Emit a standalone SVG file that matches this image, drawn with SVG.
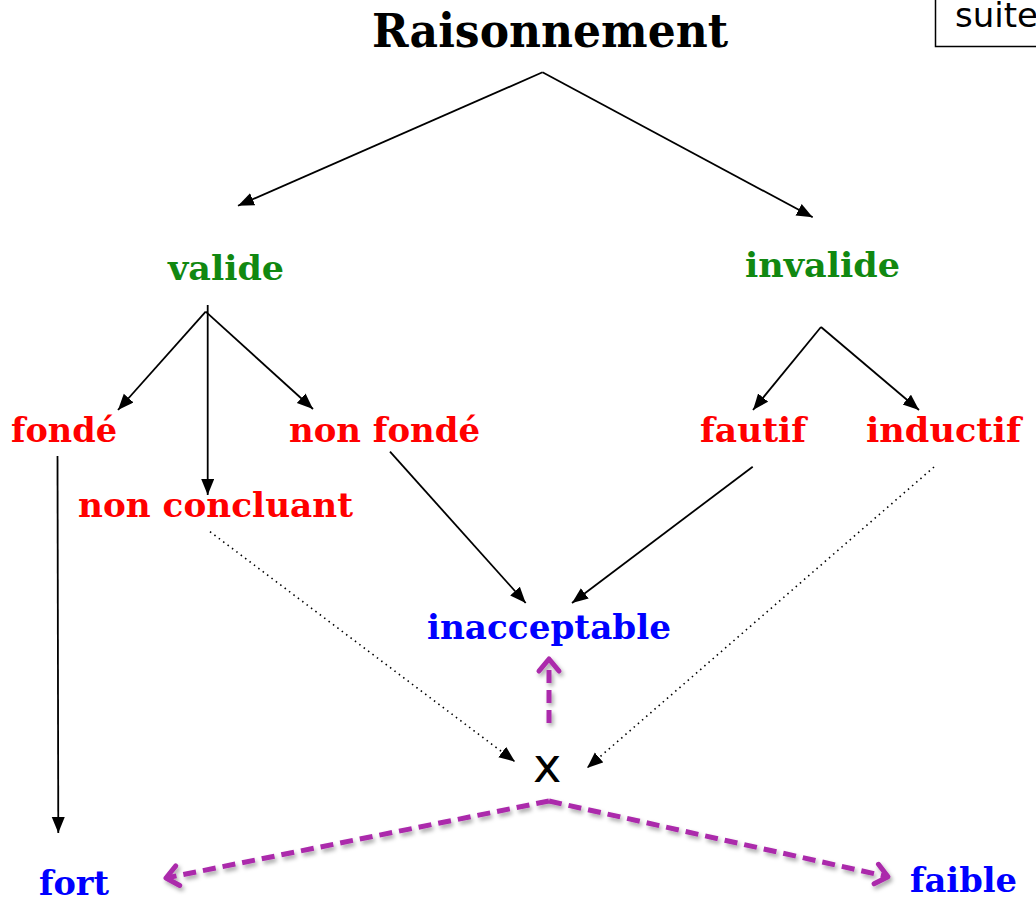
<svg xmlns="http://www.w3.org/2000/svg" width="1036" height="906" viewBox="0 0 1036 906">
  <style>
    .lbl { font-family: "DejaVu Serif", "Liberation Serif", serif; font-weight: bold; font-size: 34px; }
    .title { font-family: "DejaVu Serif", "Liberation Serif", serif; font-weight: bold; font-size: 46px; fill: #000; }
    .green { fill: #118811; }
    .red { fill: #ff0000; }
    .blue { fill: #0000ff; }
    .sans { font-family: "DejaVu Sans", "Liberation Sans", sans-serif; fill: #000; }
    .edge { stroke: #000; stroke-width: 1.8; fill: none; marker-end: url(#ah); }
    .dot { stroke: #000; stroke-width: 1.6; fill: none; stroke-dasharray: 1.5 4; marker-end: url(#ah); }
    .mag { stroke: #ab2aab; stroke-width: 5; fill: none; stroke-dasharray: 13 7; marker-end: url(#mh); }
  </style>
  <defs>
    <marker id="ah" markerUnits="userSpaceOnUse" markerWidth="18" markerHeight="14" refX="16" refY="6.5" orient="auto">
      <path d="M0,0 L16,6.5 L0,13 z" fill="#000"/>
    </marker>
    <marker id="mh" markerUnits="userSpaceOnUse" markerWidth="22" markerHeight="26" refX="15" refY="13" orient="auto" overflow="visible">
      <path d="M3,3 L15,13 L3,23" fill="none" stroke="#ab2aab" stroke-width="5" stroke-linecap="round" stroke-linejoin="round"/>
    </marker>
    <filter id="sh" x="-20%" y="-20%" width="140%" height="160%">
      <feDropShadow dx="2" dy="3" stdDeviation="2" flood-color="#000" flood-opacity="0.35"/>
    </filter>
  </defs>

  <g id="suite">
    <rect x="935.5" y="-10" width="120" height="56.5" fill="#fff" stroke="#000" stroke-width="1.5"/>
    <text class="sans" x="955" y="27" font-size="34">suite</text>
  </g>

  <g id="raisonnement"><text class="title" x="372" y="47" textLength="356" lengthAdjust="spacingAndGlyphs">Raisonnement</text></g>
  <g id="valide"><text class="lbl green" x="168" y="280" textLength="116" lengthAdjust="spacingAndGlyphs">valide</text></g>
  <g id="invalide"><text class="lbl green" x="745" y="277" textLength="155" lengthAdjust="spacingAndGlyphs">invalide</text></g>
  <g id="fonde"><text class="lbl red" x="11" y="442" textLength="106" lengthAdjust="spacingAndGlyphs">fondé</text></g>
  <g id="non-fonde"><text class="lbl red" x="289" y="442" textLength="191" lengthAdjust="spacingAndGlyphs">non fondé</text></g>
  <g id="fautif"><text class="lbl red" x="700" y="442" textLength="106" lengthAdjust="spacingAndGlyphs">fautif</text></g>
  <g id="inductif"><text class="lbl red" x="866" y="442" textLength="155" lengthAdjust="spacingAndGlyphs">inductif</text></g>
  <g id="non-concluant"><text class="lbl red" x="78" y="517" textLength="275" lengthAdjust="spacingAndGlyphs">non concluant</text></g>
  <g id="inacceptable"><text class="lbl blue" x="427" y="639" textLength="244" lengthAdjust="spacingAndGlyphs">inacceptable</text></g>
  <g id="x-node"><text class="sans" x="533" y="782" font-size="48">x</text></g>
  <g id="fort"><text class="lbl blue" x="39" y="895" textLength="70" lengthAdjust="spacingAndGlyphs">fort</text></g>
  <g id="faible"><text class="lbl blue" x="910" y="892" textLength="107" lengthAdjust="spacingAndGlyphs">faible</text></g>

  <g id="connectors">
    <line class="edge" x1="542.5" y1="72.3" x2="238" y2="205.7"/>
    <line class="edge" x1="542.5" y1="72.3" x2="812.7" y2="217.3"/>
    <line class="edge" x1="205.7" y1="311.7" x2="118" y2="410"/>
    <line class="edge" x1="207.7" y1="305" x2="207.7" y2="495"/>
    <line class="edge" x1="205.7" y1="311.7" x2="313" y2="409"/>
    <line class="edge" x1="821" y1="327" x2="753" y2="410"/>
    <line class="edge" x1="821" y1="327" x2="919" y2="410"/>
    <line class="edge" x1="57.5" y1="456" x2="58.3" y2="833"/>
    <line class="edge" x1="390" y1="451.7" x2="525.7" y2="603"/>
    <line class="edge" x1="752.7" y1="466.7" x2="572" y2="603"/>
    <line class="dot" x1="210" y1="531.7" x2="515" y2="761.7"/>
    <line class="dot" x1="934" y1="467" x2="587" y2="768"/>
    <g filter="url(#sh)">
      <line class="mag" x1="549" y1="723" x2="549" y2="659"/>
      <line class="mag" x1="549" y1="801" x2="166" y2="878"/>
      <line class="mag" x1="549" y1="801" x2="888" y2="876.7"/>
    </g>
  </g>
</svg>
